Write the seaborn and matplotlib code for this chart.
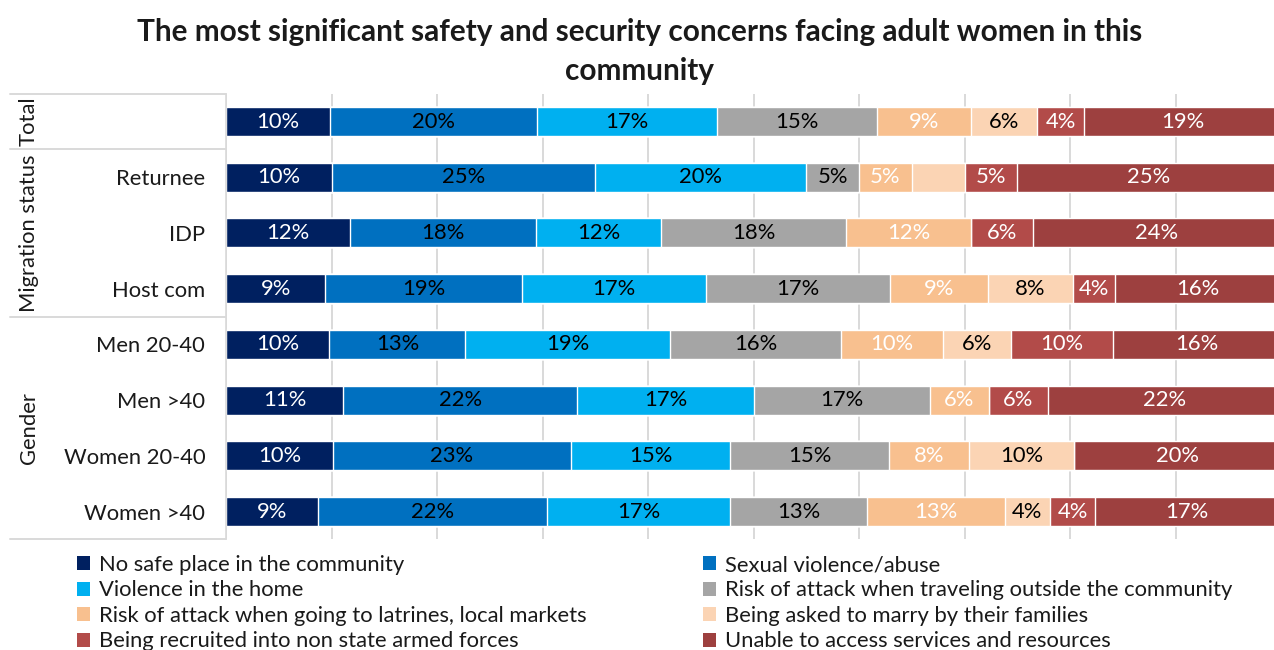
import numpy as np
import pandas as pd
import matplotlib
matplotlib.use("Agg")
import matplotlib.pyplot as plt
import matplotlib.transforms as mtransforms
from matplotlib.patches import Patch
import seaborn as sns

# ---------------- data ----------------
row_keys = ["Total", "Returnee", "IDP", "Host com", "Men 20-40", "Men >40", "Women 20-40", "Women >40"]
tick_labels = ["", "Returnee", "IDP", "Host com", "Men 20-40", "Men >40", "Women 20-40", "Women >40"]
groups = ["Total", "Migration status", "Gender"]
group_sizes = [1, 3, 4]

series_names = [
    "No safe place in the community",
    "Sexual violence/abuse",
    "Violence in the home",
    "Risk of attack when traveling outside the community",
    "Risk of attack when going to latrines, local markets",
    "Being asked to marry by their families",
    "Being recruited into non state armed forces",
    "Unable to access services and resources",
]
no_safe = [9.9, 10.0, 11.8, 9.4, 9.8, 11.1, 10.1, 8.7]
sexual = [19.6, 25.0, 17.6, 18.7, 12.9, 22.2, 22.6, 21.7]
home = [17.0, 20.0, 11.8, 17.4, 19.4, 16.7, 15.1, 17.4]
travel = [15.2, 5.0, 17.6, 17.4, 16.2, 16.7, 15.0, 13.0]
latrines = [8.9, 5.0, 11.8, 9.3, 9.7, 5.6, 7.6, 13.0]
marry = [6.3, 5.0, 0.0, 8.1, 6.4, 0.0, 10.0, 4.3]
recruited = [4.4, 5.0, 5.9, 4.0, 9.7, 5.6, 0.0, 4.3]
unable = [18.7, 25.0, 23.5, 15.7, 15.9, 22.2, 19.6, 17.4]
series_values = [no_safe, sexual, home, travel, latrines, marry, recruited, unable]
# labels not shown in the reference
hidden_labels = [("Returnee", "Being asked to marry by their families")]

# ---------------- style ----------------
colors = ["#002060", "#0070C0", "#00B0F0", "#A5A5A5", "#F8C08F", "#FBD4B4", "#B24B49", "#9D403F"]
label_colors = ["white", "black", "black", "black", "white", "black", "white", "white"]
FONT = ["Lato", "DejaVu Sans"]
FS = 15.8

sns.set_theme(style="white")
plt.rcParams["font.family"] = FONT

W, H = 1274, 650
fig = plt.figure(figsize=(W / 100, H / 100), dpi=100)
x0_px, x100_px = 226, 1281
top_px, bot_px = 93.7, 539.4
ax = fig.add_axes([x0_px / W, 1 - bot_px / H, (x100_px - x0_px) / W, (bot_px - top_px) / H])

df = pd.DataFrame({"row": row_keys})
cum = np.zeros(len(row_keys))
cums = []
for vals in series_values:
    cum = cum + np.array(vals)
    cums.append(cum.copy())

for k in reversed(range(len(series_values))):
    df["x"] = cums[k]
    sns.barplot(data=df, x="x", y="row", orient="h", color=colors[k], saturation=1,
                width=0.52, ax=ax, errorbar=None)

hidden = set(hidden_labels)
for k, vals in enumerate(series_values):
    for i, v in enumerate(vals):
        if v <= 0 or (row_keys[i], series_names[k]) in hidden:
            continue
        ax.text(cums[k][i] - v / 2, i, f"{v:.0f}%", ha="center", va="center",
                color=label_colors[k], fontsize=FS)

ax.set_xlim(0, 100)
ax.set_ylim(len(row_keys) - 0.5, -0.5)
ax.set_xticks(np.arange(0, 101, 10))
ax.xaxis.grid(True, color="#D9D9D9", lw=1.4)
ax.set_axisbelow(True)
ax.tick_params(axis="x", length=0, labelbottom=False)
ax.set_yticks(range(len(row_keys)))
ax.set_yticklabels(tick_labels, fontsize=FS, color="#1a1a1a")
ax.tick_params(axis="y", length=0, pad=15)
ax.set_xlabel("")
ax.set_ylabel("")
for s in ["top", "right", "bottom"]:
    ax.spines[s].set_visible(False)
ax.spines["left"].set_color("#D9D9D9")
ax.spines["left"].set_linewidth(1.2)

# multi-level category axis lines and group labels
trans = mtransforms.blended_transform_factory(ax.transAxes, ax.transData)
xl = (10 - x0_px) / (x100_px - x0_px)
xg = (29 - x0_px) / (x100_px - x0_px)
bounds = np.concatenate([[0], np.cumsum(group_sizes)]) - 0.5
for b in bounds:
    ax.plot([xl, 0], [b, b], transform=trans, color="#D9D9D9", lw=1.4, clip_on=False)
for g, lo, hi in zip(groups, bounds[:-1], bounds[1:]):
    ax.text(xg, (lo + hi) / 2, g, transform=trans, rotation=90, ha="center", va="center",
            fontsize=FS, color="#1a1a1a")

fig.text(0.502, 1 - 18 / H,
         "The most significant safety and security concerns facing adult women in this\ncommunity",
         ha="center", va="top", fontsize=21.4, fontweight="bold", linespacing=1.48, color="#1a1a1a")

handles = [Patch(facecolor=c, edgecolor="none") for c in colors]
for col, xpx in enumerate([77, 703]):
    idx = [col + 2 * r for r in range(4)]
    fig.legend([handles[i] for i in idx], [series_names[i] for i in idx],
               loc="upper left", bbox_to_anchor=(xpx / W, 1 - 555 / H), frameon=False,
               fontsize=FS, handlelength=0.6, handleheight=0.6, handletextpad=0.4,
               labelspacing=0.25, borderaxespad=0, borderpad=0, labelcolor="#1a1a1a")

fig.savefig("out.png", dpi=100)
